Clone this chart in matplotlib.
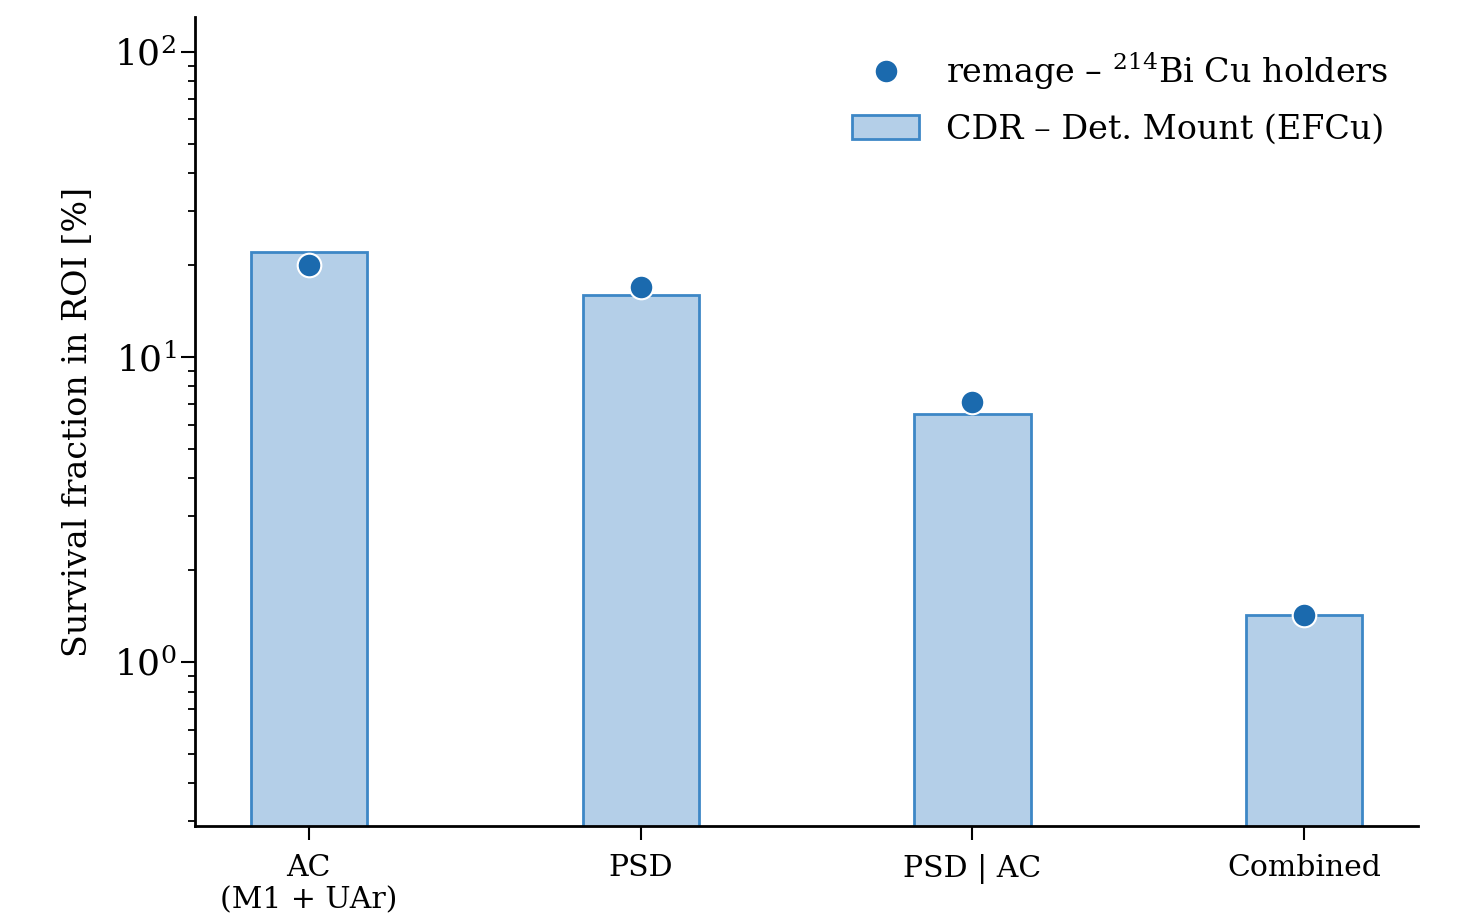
import numpy as np
import matplotlib
matplotlib.use("Agg")
import matplotlib.pyplot as plt

# data
categories = ["AC\n(M1 + UAr)", "PSD", "PSD | AC", "Combined"]
cdr_values = [22.0, 16.0, 6.5, 1.42]
remage_values = [20.0, 17.0, 7.1, 1.42]

plt.rcParams['font.family'] = ['DejaVu Serif']
plt.rcParams['mathtext.fontset'] = 'dejavuserif'

fig = plt.figure(figsize=(14.71, 9.15), dpi=100)
ax = fig.add_axes([0.1326, 0.0973, 0.8314, 0.8841])

x = np.arange(len(categories))
ax.bar(x, cdr_values, width=0.35, color="#b4cfe8", edgecolor="#3d87c6",
       linewidth=2, label="CDR – Det. Mount (EFCu)", zorder=2)
ax.plot(x, remage_values, "o", color="#1b6aae", markersize=17,
        markeredgecolor="white", markeredgewidth=1.5,
        label="remage – $^{214}$Bi Cu holders", zorder=3)

ax.set_yscale("log")
ax.set_ylim(0.29, 130)
ax.set_xticks(x)
ax.set_xticklabels(categories, fontsize=21.5)
ax.set_ylabel("Survival fraction in ROI [%]", fontsize=24, labelpad=14)
ax.tick_params(axis="y", labelsize=26)
ax.tick_params(axis="x", pad=10)
ax.tick_params(which="major", length=10, width=1.5)
ax.tick_params(which="minor", length=5, width=1.3)

for side in ["top", "right"]:
    ax.spines[side].set_visible(False)
for side in ["left", "bottom"]:
    ax.spines[side].set_linewidth(2)

ax.legend(loc="upper right", frameon=False, fontsize=24,
          bbox_to_anchor=(1.0, 0.995), handlelength=2.0, labelspacing=0.65)

fig.savefig("out.png", dpi=100)
plt.close()
